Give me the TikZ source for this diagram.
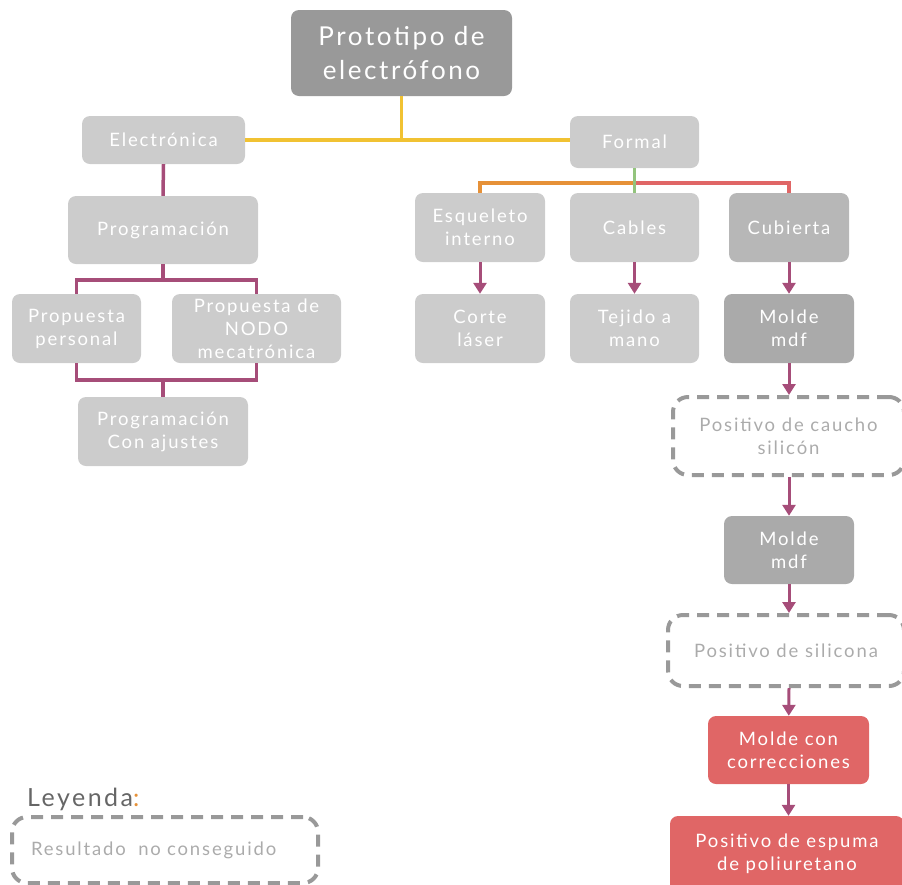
\documentclass[tikz,border=0pt]{standalone}
\usepackage{fontspec}
\setmainfont{Lato}[LetterSpace=10.0]
\usetikzlibrary{arrows.meta}
\definecolor{rootgray}{HTML}{999999}
\definecolor{boxgray}{HTML}{CCCCCC}
\definecolor{midgray}{HTML}{B7B7B7}
\definecolor{darkbox}{HTML}{AAAAAA}
\definecolor{dashgray}{HTML}{999999}
\definecolor{txtgray}{HTML}{ABABAB}
\definecolor{legendtxt}{HTML}{666666}
\definecolor{plum}{HTML}{A64D79}
\definecolor{gold}{HTML}{F1C232}
\definecolor{tangerine}{HTML}{E69138}
\definecolor{leaf}{HTML}{93C47D}
\definecolor{salmon}{HTML}{E06666}
\begin{document}
\begin{tikzpicture}[x=1pt,y=-1pt,
 box/.style={fill=boxgray,rounded corners=8pt,text=white,align=center,inner sep=0pt,
  font=\fontsize{18.5}{23}\selectfont},
 dashbox/.style={draw=dashgray,line width=4pt,dash pattern=on 12pt off 8pt,rounded corners=15pt,
  text=txtgray,align=center,inner sep=0pt,font=\fontsize{18.5}{23}\selectfont},
 link/.style={line width=3.5pt},
 flow/.style={plum,line width=3pt,-{Triangle[width=13pt,length=11pt]}}]
 \clip (0,0) rectangle (902,884);
 \node[box,fill=rootgray,minimum width=221pt,minimum height=86pt,font=\fontsize{26}{34}\selectfont] (root) at (401.5,53) {Prototipo de\\electrófono};
 \node[box,minimum width=163pt,minimum height=48pt] (elec) at (163.5,140) {Electrónica};
 \node[box,minimum width=129pt,minimum height=52pt] (formal) at (634.5,142) {Formal};
 \node[box,minimum width=190pt,minimum height=68pt] (prog) at (163,230) {Programación};
 \node[box,minimum width=129pt,minimum height=69pt] (pers) at (76.5,328.5) {Propuesta\\personal};
 \node[box,minimum width=169pt,minimum height=69pt] (nodo) at (256.5,328.5) {Propuesta de\\NODO\\mecatrónica};
 \node[box,minimum width=170pt,minimum height=69pt] (ajust) at (163,431.5) {Programación\\Con ajustes};
 \node[box,minimum width=130pt,minimum height=69pt] (esq) at (480,227.5) {Esqueleto\\interno};
 \node[box,minimum width=129pt,minimum height=69pt] (cables) at (634.5,227.5) {Cables};
 \node[box,fill=midgray,minimum width=120pt,minimum height=69pt] (cub) at (789,227.5) {Cubierta};
 \node[box,minimum width=130pt,minimum height=69pt] (corte) at (480,328.5) {Corte\\láser};
 \node[box,minimum width=129pt,minimum height=69pt] (tejido) at (634.5,328.5) {Tejido a\\mano};
 \node[box,fill=darkbox,minimum width=130pt,minimum height=69pt] (moldeA) at (789,328.5) {Molde\\mdf};
 \node[dashbox,minimum width=231pt,minimum height=78pt] (caucho) at (788.5,436) {Positivo de caucho\\silicón};
 \node[box,fill=darkbox,minimum width=130pt,minimum height=68pt] (moldeB) at (789,550) {Molde\\mdf};
 \node[dashbox,minimum width=236pt,minimum height=71pt] (silicona) at (786,650.5) {Positivo de silicona};
 \node[box,fill=salmon,minimum width=161pt,minimum height=68pt] (correc) at (788.5,750) {Molde con\\correcciones};
 \node[box,fill=salmon,minimum width=234pt,minimum height=76pt] (espuma) at (787,854) {Positivo de espuma\\de poliuretano};
 \node[anchor=base west,text=legendtxt,inner sep=0pt,font=\fontsize{25}{30}\selectfont] (leyenda) at (27,806) {Leyenda\textcolor{tangerine}{:}};
 \node[dashbox,anchor=north west,minimum width=306pt,minimum height=66pt,text width=268pt,align=left] (result) at (10,815) {Resultado\ \ no conseguido};
 \draw[link,gold] (root.south) -- (root.south |- elec.east);
 \draw[link,gold] (elec.east) -- (elec.east -| formal.west);
 \draw[link,plum] (elec.south) -- (prog.north);
 \draw[link,plum] (prog.south) -- ++(0,16);
 \draw[link,plum] (pers.north) -- ++(0,-14) -| (nodo.north);
 \draw[link,plum] (pers.south) -- ++(0,17) -| (nodo.south);
 \draw[link,plum] (ajust.north) -- ++(0,-17);
 \draw[link,tangerine] (formal.south) ++(0,15) -| (esq.north);
 \draw[link,salmon] (formal.south) ++(0,15) -| (cub.north);
 \draw[link,leaf] (formal.south) -- (cables.north);
 \draw[flow] (esq) -- (corte);
 \draw[flow] (cables) -- (tejido);
 \draw[flow] (cub) -- (moldeA);
 \draw[flow] (moldeA) -- (moldeA |- caucho.north);
 \draw[flow] (moldeA |- caucho.south) -- (moldeB);
 \draw[flow] (moldeB) -- (moldeB |- silicona.north);
 \draw[flow] (moldeB |- silicona.south) -- (correc);
 \draw[flow] (correc) -- (correc |- espuma.north);
\end{tikzpicture}
\end{document}
